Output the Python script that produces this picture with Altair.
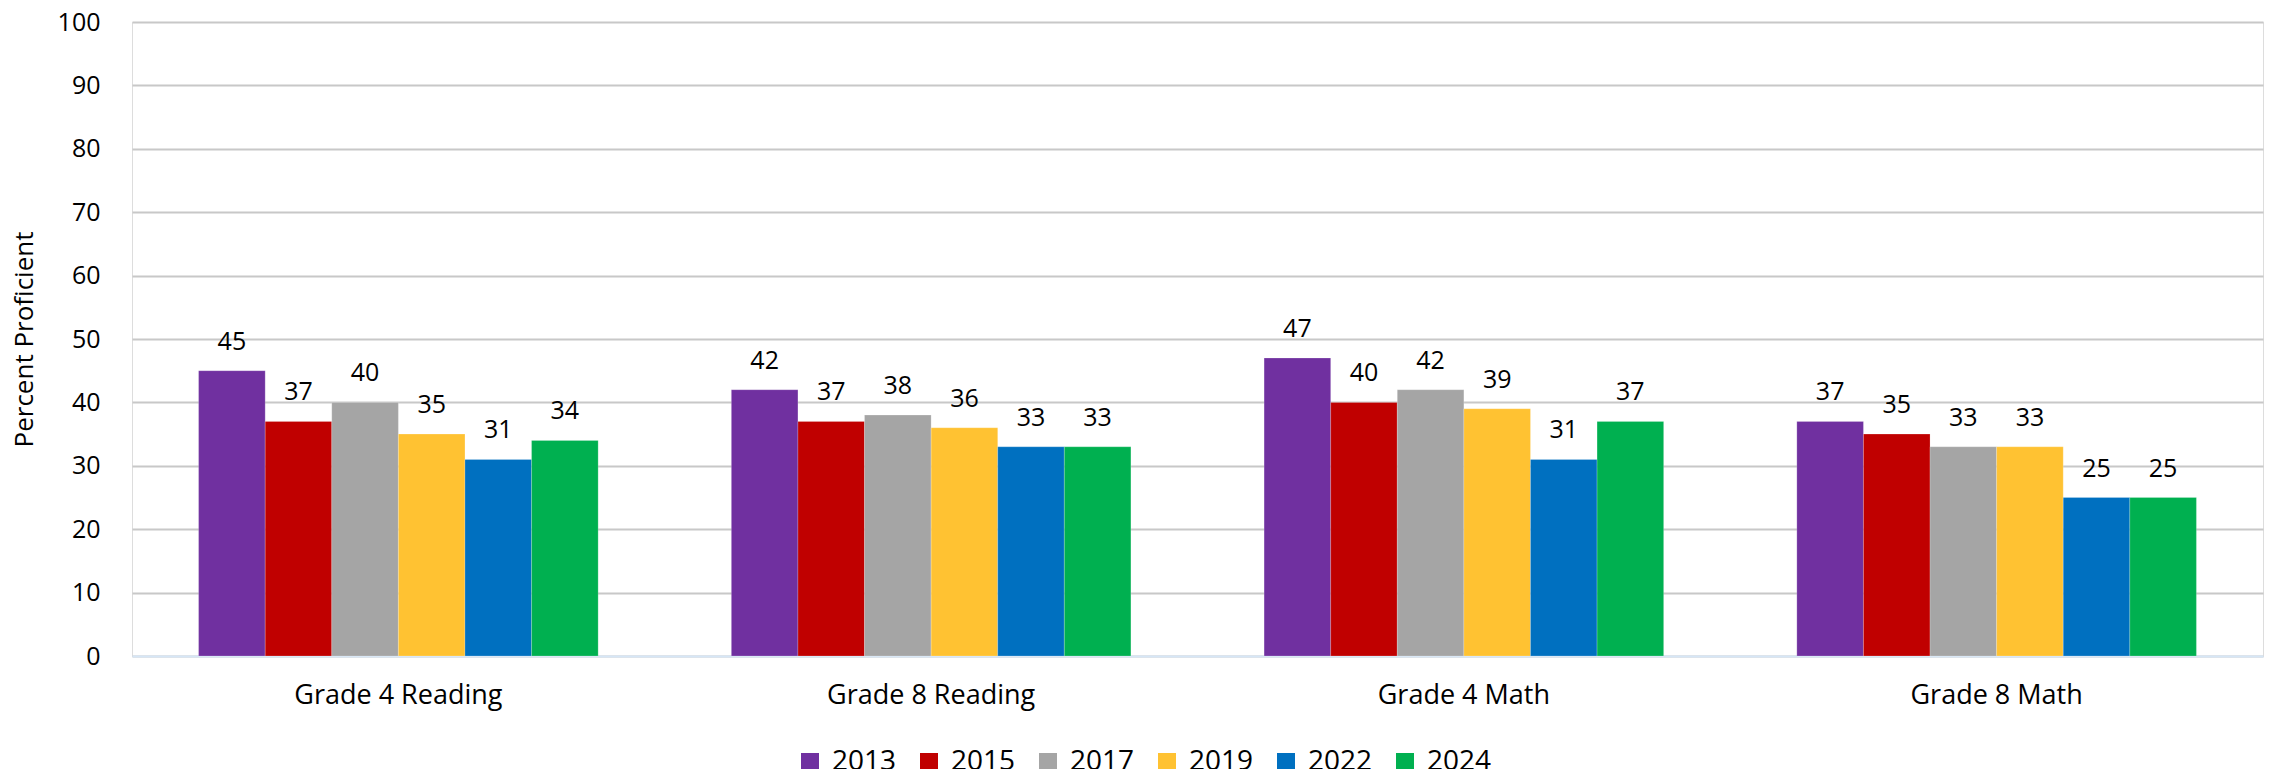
import altair as alt
import pandas as pd

groups = ["Grade 4 Reading", "Grade 8 Reading", "Grade 4 Math", "Grade 8 Math"]
years = ["2013", "2015", "2017", "2019", "2022", "2024"]
colors = ["#7030A0", "#C00000", "#A5A5A5", "#FFC232", "#0070C0", "#00B050"]

g4_reading = [45, 37, 40, 35, 31, 34]
g8_reading = [42, 37, 38, 36, 33, 33]
g4_math = [47, 40, 42, 39, 31, 37]
g8_math = [37, 35, 33, 33, 25, 25]

series = [g4_reading, g8_reading, g4_math, g8_math]
rows = []
for g, vals in zip(groups, series):
    for y, v in zip(years, vals):
        rows.append({"group": g, "year": y, "value": v})
df = pd.DataFrame(rows)

FONT = "Open Sans"

x_enc = alt.X("group:N", sort=groups, title=None,
              scale=alt.Scale(paddingInner=0.25, paddingOuter=0.125),
              axis=alt.Axis(labelAngle=0, labelFontSize=27, labelPadding=26,
                            labelLimit=0,
                            ticks=False, domain=True, domainColor="#D6E6F6",
                            domainWidth=2, labelColor="#000000", labelFont=FONT))
xoff = alt.XOffset("year:N", sort=years, scale=alt.Scale(paddingInner=0, paddingOuter=0))
y_enc = alt.Y("value:Q", title="Percent Proficient",
              scale=alt.Scale(domain=[0, 100], nice=False),
              axis=alt.Axis(values=list(range(0, 101, 10)), ticks=False, domain=False,
                            grid=True, gridColor="#C8C8C8", gridWidth=2,
                            labelFontSize=25, labelPadding=32, labelColor="#000000",
                            labelFont=FONT, titleFont=FONT, titleFontSize=26,
                            titleFontWeight="normal", titleColor="#000000",
                            titlePadding=20))

bars = alt.Chart(df).mark_bar(stroke="#FFFFFF", strokeWidth=0.5, strokeOpacity=0.4).encode(
    x=x_enc,
    xOffset=xoff,
    y=y_enc,
    color=alt.Color("year:N", sort=years,
                    scale=alt.Scale(domain=years, range=colors),
                    legend=alt.Legend(title=None, orient="none", direction="horizontal",
                                      legendX=664, legendY=726,
                                      symbolType="square", symbolSize=324,
                                      symbolStrokeWidth=0, labelFontSize=28,
                                      labelFont=FONT, labelColor="#000000",
                                      columnPadding=18, labelOffset=8)),
)

labels = alt.Chart(df).mark_text(baseline="alphabetic", dy=-21, fontSize=25,
                                 font=FONT, color="#000000").encode(
    x=alt.X("group:N", sort=groups),
    xOffset=xoff,
    y="value:Q",
    text="value:Q",
)

chart = alt.layer(bars, labels).properties(
    width=2131, height=634,
    autosize=alt.AutoSizeParams(type="none"),
    padding={"left": 124, "top": 14, "right": 1, "bottom": 113},
).configure_view(stroke=None).configure(background="#FFFFFF")

chart.save("out.html", embed_options={"renderer": "svg", "actions": False})
